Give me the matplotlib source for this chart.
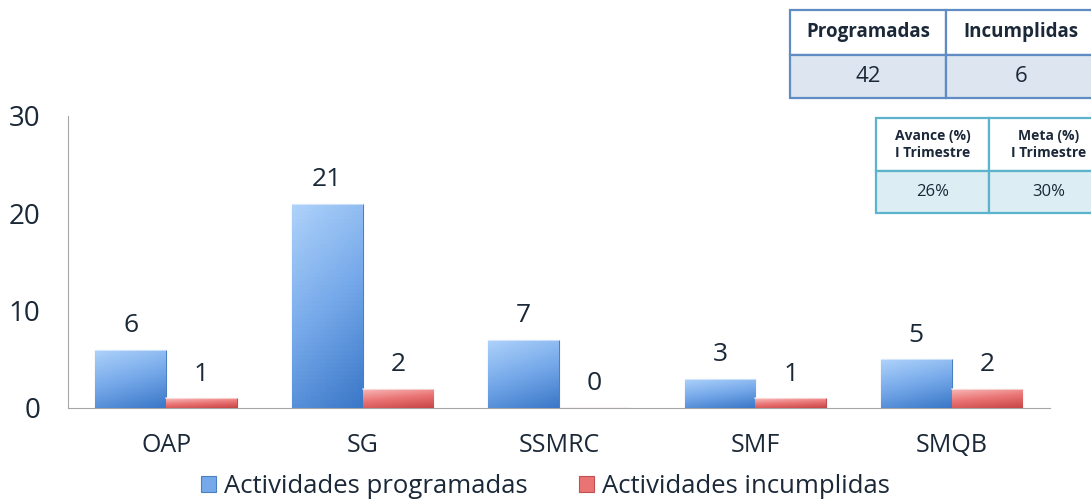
import matplotlib.pyplot as plt
import numpy as np
from matplotlib.patches import Rectangle
from matplotlib.colors import LinearSegmentedColormap

plt.rcParams['font.family'] = ['Open Sans', 'DejaVu Sans']

# datos del gráfico
categorias = ['OAP', 'SG', 'SSMRC', 'SMF', 'SMQB']
programadas = [6, 21, 7, 3, 5]
incumplidas = [1, 2, 0, 1, 2]
series = ['Actividades programadas', 'Actividades incumplidas']

# tablas resumen
tabla1_enc = ['Programadas', 'Incumplidas']
tabla1_val = ['42', '6']
tabla2_enc = ['Avance (%)\nI Trimestre', 'Meta (%)\nI Trimestre']
tabla2_val = ['26%', '30%']

texto = '#1b2838'

fig = plt.figure(figsize=(10.91, 5.0), dpi=100)
ax = fig.add_axes([0.0623, 0.184, 0.9, 0.584])

x = np.arange(len(categorias))
w = 0.36

azul = LinearSegmentedColormap.from_list('az', ['#aed2fa', '#76a9ea', '#3b78c8'])
rojo = LinearSegmentedColormap.from_list('ro', ['#f8bcbc', '#ea7474', '#c84646'])

# gradiente: claro arriba, oscuro abajo
gy = np.linspace(0, 1, 50)[:, None]
gx = np.linspace(0, 1, 20)[None, :]
grad = 0.75 * gy + 0.25 * gx

def barras(pos, vals, cmap, edge, label):
    bs = ax.bar(pos, vals, w, color=cmap(0.5), edgecolor=edge, linewidth=0.8, label=label, zorder=2)
    for b in bs:
        h = b.get_height()
        if h <= 0:
            continue
        x0 = b.get_x()
        im = ax.imshow(grad, cmap=cmap, vmin=0, vmax=1, aspect='auto',
                       extent=[x0, x0 + b.get_width(), 0, h], zorder=3)
        im.set_clip_path(b)
        ax.plot([x0, x0 + b.get_width()], [h, h], color='white', lw=1.2, alpha=0.6, zorder=4)
    return bs

b1 = barras(x - w / 2, programadas, azul, '#4a7fc0', series[0])
b2 = barras(x + w / 2, incumplidas, rojo, '#c05050', series[1])

for xi, v in zip(x - w / 2, programadas):
    ax.text(xi, v + 1.2, str(v), ha='center', va='bottom', fontsize=19, color=texto)
for xi, v in zip(x + w / 2, incumplidas):
    ax.text(xi, v + 1.2, str(v), ha='center', va='bottom', fontsize=19, color=texto)

ax.set_xlim(-0.5, len(categorias) - 0.5)
ax.set_ylim(0, 30)
ax.set_yticks([0, 10, 20, 30])
ax.set_xticks(x)
ax.set_xticklabels(categorias, fontsize=18, color=texto)
ax.tick_params(axis='y', labelsize=20, colors=texto, length=0, pad=20)
ax.tick_params(axis='x', length=0, pad=18)
for s in ['top', 'right']:
    ax.spines[s].set_visible(False)
ax.spines['left'].set_color('#a6a6a6')
ax.spines['bottom'].set_color('#a6a6a6')

leg = fig.legend(handles=[b1, b2], labels=series, loc='lower center', ncol=2, frameon=False,
                 fontsize=18.5, bbox_to_anchor=(0.5, -0.045), handlelength=0.6, handleheight=0.6,
                 handletextpad=0.3, columnspacing=2.0)
for t in leg.get_texts():
    t.set_color(texto)

# tablas (coordenadas de figura en píxeles)
W, H = 1091, 500
def tabla(x0, y0, cols, filas, enc, val, borde, fondo, fs_enc, fs_val, peso):
    xs = np.cumsum([x0] + cols)
    ys = [y0, y0 + filas[0], y0 + filas[0] + filas[1]]
    for i in range(len(cols)):
        for j, (txt, fc) in enumerate([(enc[i], 'white'), (val[i], fondo)]):
            r = Rectangle((xs[i] / W, 1 - ys[j + 1] / H), cols[i] / W, (ys[j + 1] - ys[j]) / H,
                          transform=fig.transFigure, facecolor=fc, edgecolor=borde, lw=1.6,
                          clip_on=False)
            fig.add_artist(r)
            fig.text((xs[i] + cols[i] / 2) / W, 1 - (ys[j] + ys[j + 1]) / 2 / H, txt,
                     ha='center', va='center', color=texto,
                     fontsize=fs_enc if j == 0 else fs_val,
                     fontweight=peso if j == 0 else 'normal', linespacing=1.35)

tabla(790, 10, [156, 150], [45, 43], tabla1_enc, tabla1_val, '#5f8cc3', '#dce5f0', 13.5, 16, 'bold')
tabla(876, 118, [113, 120], [53, 42], tabla2_enc, tabla2_val, '#5bb3cc', '#dcedf3', 10, 12, 'bold')

fig.savefig('out.png', dpi=100)
